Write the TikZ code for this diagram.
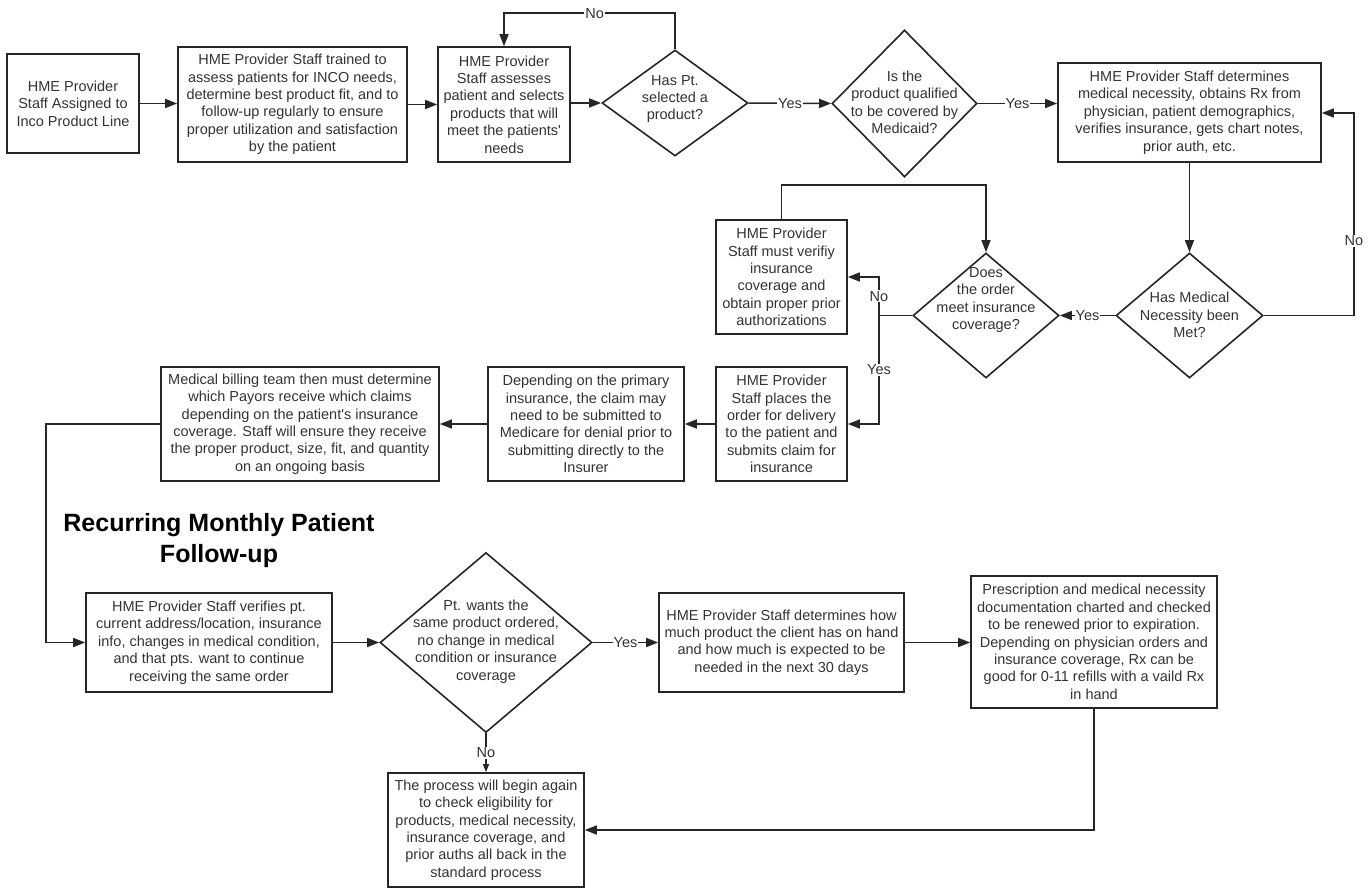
\documentclass[tikz,border=0pt]{standalone}
\usepackage{fontspec}
\setmainfont{Liberation Sans}
\usetikzlibrary{arrows.meta,shapes.geometric}
\begin{document}
\begin{tikzpicture}[x=1pt,y=-1pt,
  box/.style={draw=black!85, line width=1.6pt, fill=white, align=center, inner sep=0pt,
    font=\fontsize{14.5}{17.4}\selectfont, text=black!80},
  dia/.style={draw=black!85, diamond, line width=1.6pt, inner sep=0pt},
  dtext/.style={align=center, inner sep=0pt, font=\fontsize{14.5}{17.4}\selectfont, text=black!80},
  line/.style={draw=black!85, line width=1.5pt},
  arr/.style={line, -{Triangle[length=12pt,width=9pt]}},
  sarr/.style={line, -{Triangle[length=8pt,width=6pt]}},
  lbl/.style={fill=white, inner sep=1pt, font=\fontsize{14.5}{16}\selectfont, text=black!80},
  title/.style={align=center, inner sep=0pt, font=\fontsize{25}{31}\selectfont\bfseries, text=black}
]
\useasboundingbox (0,0) rectangle (1370,888);
\fill[white] (0,0) rectangle (1370,888);

% top row
\node[box, minimum width=132pt, minimum height=99pt] (a) at (73,103.5)
  {HME Provider\\Staff Assigned to\\Inco Product Line};
\node[box, minimum width=229pt, minimum height=115pt] (b) at (292.5,104.5)
  {HME Provider Staff trained to\\assess patients for INCO needs,\\determine best product fit, and to\\follow-up regularly to ensure\\proper utilization and satisfaction\\by the patient};
\node[box, minimum width=132pt, minimum height=115pt] (c) at (504,104.5)
  {HME Provider\\Staff assesses\\patient and selects\\products that will\\meet the patients\textquotesingle\\needs};
\node[dia, minimum width=146pt, minimum height=106pt] (d1) at (675,103) {};
\node[dtext] (d1t) at (675,99) {Has Pt.\\selected a\\product?};
\node[dia, minimum width=145pt, minimum height=147pt] (d2) at (904.5,103.5) {};
\node[dtext] (d2t) at (904.5,102.5) {Is the\\product qualified\\to be covered by\\Medicaid?};
\node[box, minimum width=263pt, minimum height=99pt] (e) at (1189.5,112.5)
  {HME Provider Staff determines\\medical necessity, obtains Rx from\\physician, patient demographics,\\verifies insurance, gets chart notes,\\prior auth, etc.};

% middle
\node[dia, minimum width=147pt, minimum height=125pt] (d3) at (1189.5,315.5) {};
\node[dtext] (d3t) at (1189.5,315) {Has Medical\\Necessity been\\Met?};
\node[dia, minimum width=146pt, minimum height=125pt] (d4) at (986,315.5) {};
\node[dtext] (d4t) at (986,300) {Does\\the order\\meet insurance\\coverage?};
\node[box, minimum width=131pt, minimum height=114pt] (f) at (781.5,277)
  {HME Provider\\Staff must verifiy\\insurance\\coverage and\\obtain proper prior\\authorizations};
\node[box, minimum width=131pt, minimum height=114pt] (g) at (781.5,424)
  {HME Provider\\Staff places the\\order for delivery\\to the patient and\\submits claim for\\insurance};
\node[box, minimum width=196pt, minimum height=114pt] (h) at (586,424)
  {Depending on the primary\\insurance, the claim may\\need to be submitted to\\Medicare for denial prior to\\submitting directly to the\\Insurer};
\node[box, minimum width=278pt, minimum height=114pt] (i) at (300,424)
  {Medical billing team then must determine\\which Payors receive which claims\\depending on the patient\textquotesingle s insurance\\coverage. Staff will ensure they receive\\the proper product, size, fit, and quantity\\on an ongoing basis};

\node[title] (ttl) at (219,541) {Recurring Monthly Patient\\Follow-up};

% bottom
\node[box, minimum width=246pt, minimum height=99pt] (j) at (209,642.5)
  {HME Provider Staff verifies pt.\\current address/location, insurance\\info, changes in medical condition,\\and that pts. want to continue\\receiving the same order};
\node[dia, minimum width=212pt, minimum height=180pt] (d5) at (486,642.5) {};
\node[dtext] (d5t) at (486,641.5) {Pt. wants the\\same product ordered,\\no change in medical\\condition or insurance\\coverage};
\node[box, minimum width=245pt, minimum height=99pt] (k) at (781.5,642.5)
  {HME Provider Staff determines how\\much product the client has on hand\\and how much is expected to be\\needed in the next 30 days};
\node[box, minimum width=246pt, minimum height=132pt] (m) at (1094,642)
  {Prescription and medical necessity\\documentation charted and checked\\to be renewed prior to expiration.\\Depending on physician orders and\\insurance coverage, Rx can be\\good for 0-11 refills with a vaild Rx\\in hand};
\node[box, minimum width=196pt, minimum height=114pt] (l) at (486,830)
  {The process will begin again\\to check eligibility for\\products, medical necessity,\\insurance coverage, and\\prior auths all back in the\\standard process};

\coordinate (ny) at (0,113);
\coordinate (br) at (879,315.5);

% connectors
\draw[arr] (a.east) -- (a.east -| b.west);
\draw[arr] (b.east) -- (b.east -| c.west);
\draw[arr] (c.east |- d1.west) -- (d1.west);
\draw[arr] (d1.north) -- ++(0,-36) coordinate (t1) -- node[lbl, pos=0.47] {No} (t1 -| c.north) -- (c.north);
\draw[arr] (d1.east) -- node[lbl] {Yes} (d2.west);
\draw[arr] (d2.east) -- node[lbl] {Yes} (d2.east -| e.west);
\draw[arr] (e.south -| d3.north) -- (d3.north);
\draw[arr] (d3.east) -- ++(90,0) coordinate (n1) -- node[lbl, pos=0.37] {No} (n1 |- ny) -- (e.east |- ny);
\draw[arr] (d3.west) -- node[lbl] {Yes} (d4.east);
\draw[arr] (f.north) -- ++(0,-34) -| (d4.north);
\draw[line] (d4.west) -- (br);
\draw[arr] (br) |- node[lbl, pos=0.25] {No} (f.east);
\draw[arr] (br) |- node[lbl, pos=0.25] {Yes} (g.east);
\draw[arr] (g.west) -- (h.east);
\draw[arr] (h.west) -- (i.east);
\draw[arr] (i.west) -- ++(-114,0) |- (j.west);
\draw[arr] (j.east) -- (d5.west);
\draw[arr] (d5.east) -- node[lbl] {Yes} (d5.east -| k.west);
\draw[sarr] (d5.south) -- node[lbl] {No} (l.north);
\draw[arr] (k.east) -- (k.east -| m.west);
\draw[arr] (m.south) |- (l.east);
\end{tikzpicture}
\end{document}
